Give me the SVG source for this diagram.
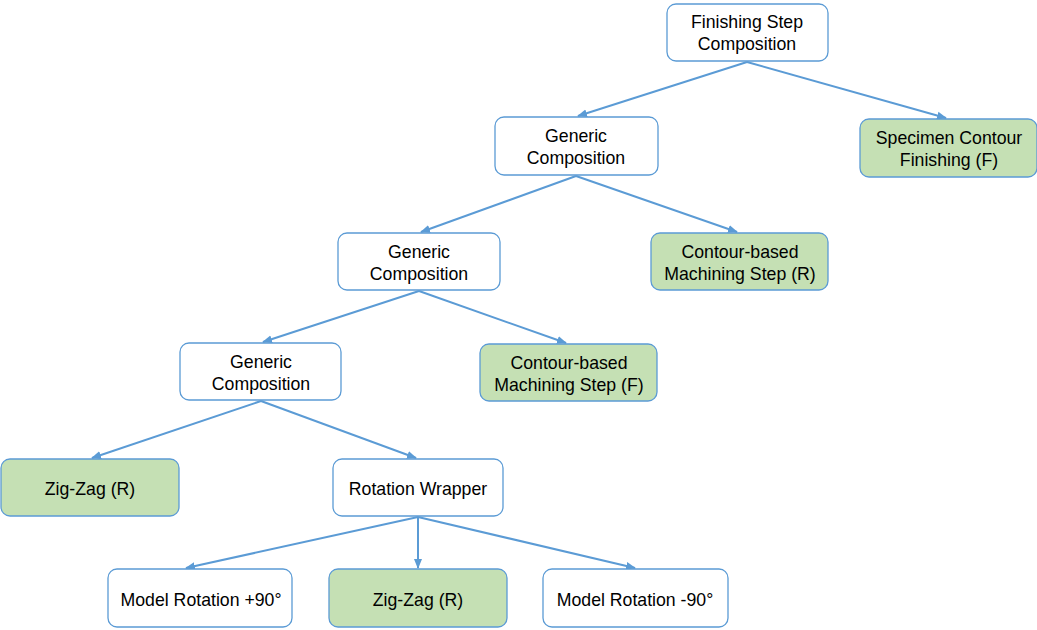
<svg xmlns="http://www.w3.org/2000/svg" width="1037" height="630" viewBox="0 0 1037 630">
<style>
.n rect{fill:#fff;stroke:#5B9BD5;stroke-width:1.3}
.g rect{fill:#C5E0B4;stroke:#5B9BD5;stroke-width:1.3}
text{font-family:"Liberation Sans",Arial,sans-serif;font-size:17.7px;fill:#000;text-anchor:middle}
#edges line{stroke:#5B9BD5;stroke-width:2;marker-end:url(#ah)}
</style>
<defs>
<marker id="ah" viewBox="0 0 10 10" refX="9" refY="5" markerWidth="5" markerHeight="5" orient="auto" markerUnits="strokeWidth">
<path d="M0,1 L10,5 L0,9 z" fill="#5B9BD5"/>
</marker>
</defs>
<rect width="1037" height="630" fill="#fff"/>
<g id="edges">
<line x1="747" y1="62" x2="578" y2="116"/>
<line x1="747" y1="62" x2="946" y2="118"/>
<line x1="576" y1="176" x2="421" y2="232"/>
<line x1="576" y1="176" x2="737" y2="232"/>
<line x1="419" y1="291" x2="263" y2="342"/>
<line x1="419" y1="291" x2="566" y2="343"/>
<line x1="261" y1="401" x2="92" y2="458"/>
<line x1="261" y1="401" x2="416" y2="458"/>
<line x1="418" y1="517" x2="186" y2="568"/>
<line x1="418" y1="517" x2="418" y2="568"/>
<line x1="418" y1="517" x2="635" y2="568"/>
</g>
<g id="n1" class="n"><rect x="667" y="4" width="161" height="57" rx="9"/><text x="747" y="28">Finishing Step</text><text x="747" y="50">Composition</text></g>
<g id="n2" class="n"><rect x="495" y="117" width="163" height="58" rx="9"/><text x="576" y="142">Generic</text><text x="576" y="164">Composition</text></g>
<g id="n3" class="g"><rect x="860" y="119" width="177" height="58" rx="9"/><text x="949" y="144">Specimen Contour</text><text x="949" y="166">Finishing (F)</text></g>
<g id="n4" class="n"><rect x="338" y="233" width="162" height="57" rx="9"/><text x="419" y="258">Generic</text><text x="419" y="280">Composition</text></g>
<g id="n5" class="g"><rect x="651" y="233" width="177" height="57" rx="9"/><text x="740" y="258">Contour-based</text><text x="740" y="280">Machining Step (R)</text></g>
<g id="n6" class="n"><rect x="180" y="343" width="161" height="57" rx="9"/><text x="261" y="368">Generic</text><text x="261" y="390">Composition</text></g>
<g id="n7" class="g"><rect x="480" y="344" width="177" height="57" rx="9"/><text x="569" y="369">Contour-based</text><text x="569" y="391">Machining Step (F)</text></g>
<g id="n8" class="g"><rect x="1" y="459" width="178" height="57" rx="9"/><text x="90" y="495">Zig-Zag (R)</text></g>
<g id="n9" class="n"><rect x="333" y="459" width="170" height="57" rx="9"/><text x="418" y="495">Rotation Wrapper</text></g>
<g id="n10" class="n"><rect x="108" y="569" width="184" height="58" rx="9"/><text x="201" y="606">Model Rotation +90°</text></g>
<g id="n11" class="g"><rect x="329" y="569" width="178" height="58" rx="9"/><text x="418" y="606">Zig-Zag (R)</text></g>
<g id="n12" class="n"><rect x="543" y="569" width="185" height="58" rx="9"/><text x="635" y="606">Model Rotation -90°</text></g>
</svg>
